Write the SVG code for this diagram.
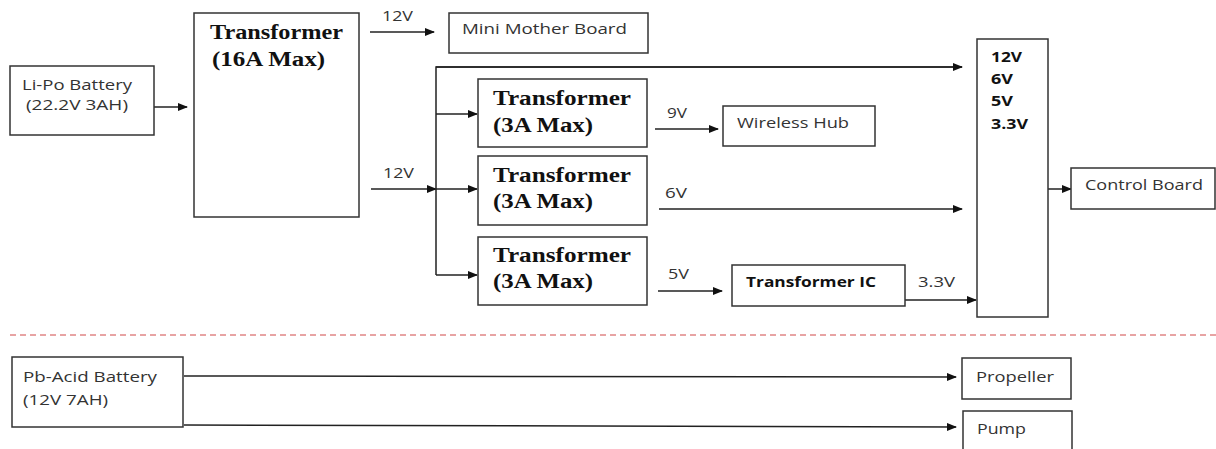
<svg xmlns="http://www.w3.org/2000/svg" width="1216" height="449" viewBox="0 0 1216 449">
<style>
.box{fill:#fff;stroke:#333;stroke-width:1.5}
.t{font-family:"Open Sans","Liberation Sans",sans-serif;font-size:15px;fill:#333}
.s{font-family:"Open Sans","Liberation Sans",sans-serif;font-size:14px;fill:#333}
.tb{font-family:"Open Sans","Liberation Sans",sans-serif;font-size:14px;font-weight:bold;fill:#111}
.ser{font-family:"Liberation Serif",serif;font-size:20px;font-weight:bold;fill:#111}
.ln{fill:none;stroke:#222;stroke-width:1.5}
</style>
<defs>
<marker id="ah" markerWidth="10" markerHeight="8" refX="9" refY="4" orient="auto" markerUnits="userSpaceOnUse">
<path d="M0,0 L10,4 L0,8 Z" fill="#111"/>
</marker>
</defs>
<rect width="1216" height="449" fill="#fff"/>
<line x1="10" y1="335" x2="1216" y2="335" stroke="#d04848" stroke-width="1" stroke-dasharray="6,4"/>

<g id="connectors">
<line class="ln" x1="154" y1="107" x2="187" y2="107" marker-end="url(#ah)"/>
<line class="ln" x1="370" y1="32" x2="434" y2="32" marker-end="url(#ah)"/>
<line class="ln" x1="371" y1="189" x2="436" y2="189" marker-end="url(#ah)"/>
<polyline class="ln" points="962,67 436,67 436,275"/>
<line class="ln" x1="436" y1="67" x2="962" y2="67" marker-end="url(#ah)"/>
<line class="ln" x1="436" y1="114" x2="477" y2="114" marker-end="url(#ah)"/>
<line class="ln" x1="436" y1="189" x2="477" y2="189" marker-end="url(#ah)"/>
<line class="ln" x1="436" y1="275" x2="477" y2="275" marker-end="url(#ah)"/>
<line class="ln" x1="655" y1="129" x2="718" y2="129" marker-end="url(#ah)"/>
<line class="ln" x1="659" y1="209" x2="962" y2="209" marker-end="url(#ah)"/>
<line class="ln" x1="658" y1="291" x2="722" y2="291" marker-end="url(#ah)"/>
<line class="ln" x1="905" y1="300" x2="976" y2="300" marker-end="url(#ah)"/>
<line class="ln" x1="1048" y1="189" x2="1071" y2="189" marker-end="url(#ah)"/>
<line class="ln" x1="184" y1="376" x2="956" y2="377" marker-end="url(#ah)"/>
<line class="ln" x1="184" y1="425" x2="956" y2="427" marker-end="url(#ah)"/>
<text class="s" x="382" y="21" textLength="31" lengthAdjust="spacingAndGlyphs">12V</text>
<text class="s" x="383" y="178" textLength="31" lengthAdjust="spacingAndGlyphs">12V</text>
<text class="s" x="667" y="118" textLength="20" lengthAdjust="spacingAndGlyphs">9V</text>
<text class="s" x="665" y="198" textLength="22" lengthAdjust="spacingAndGlyphs">6V</text>
<text class="s" x="668" y="279" textLength="21" lengthAdjust="spacingAndGlyphs">5V</text>
<text class="s" x="918" y="287" textLength="37" lengthAdjust="spacingAndGlyphs">3.3V</text>
</g>

<g id="lipo">
<rect class="box" x="10" y="66" width="144" height="69"/>
<text class="t" x="22" y="90" textLength="110" lengthAdjust="spacingAndGlyphs">Li-Po Battery</text>
<text class="t" x="26" y="110" textLength="102" lengthAdjust="spacingAndGlyphs">(22.2V 3AH)</text>
</g>
<g id="transformer16">
<rect class="box" x="194" y="13" width="165" height="204"/>
<text class="ser" x="210" y="39" textLength="133" lengthAdjust="spacingAndGlyphs">Transformer</text>
<text class="ser" x="212" y="66" textLength="113" lengthAdjust="spacingAndGlyphs">(16A Max)</text>
</g>
<g id="minimother">
<rect class="box" x="449" y="13" width="199" height="40"/>
<text class="t" x="462" y="34" textLength="165" lengthAdjust="spacingAndGlyphs">Mini Mother Board</text>
</g>
<g id="transformer3a1">
<rect class="box" x="478" y="79" width="169" height="68"/>
<text class="ser" x="493" y="105" textLength="138" lengthAdjust="spacingAndGlyphs">Transformer</text>
<text class="ser" x="493" y="132" textLength="100" lengthAdjust="spacingAndGlyphs">(3A Max)</text>
</g>
<g id="transformer3a2">
<rect class="box" x="478" y="156" width="169" height="69"/>
<text class="ser" x="493" y="182" textLength="138" lengthAdjust="spacingAndGlyphs">Transformer</text>
<text class="ser" x="493" y="208" textLength="100" lengthAdjust="spacingAndGlyphs">(3A Max)</text>
</g>
<g id="transformer3a3">
<rect class="box" x="478" y="237" width="169" height="68"/>
<text class="ser" x="493" y="262" textLength="138" lengthAdjust="spacingAndGlyphs">Transformer</text>
<text class="ser" x="493" y="288" textLength="100" lengthAdjust="spacingAndGlyphs">(3A Max)</text>
</g>
<g id="wirelesshub">
<rect class="box" x="723" y="106" width="152" height="40"/>
<text class="t" x="737" y="128" textLength="112" lengthAdjust="spacingAndGlyphs">Wireless Hub</text>
</g>
<g id="transformeric">
<rect class="box" x="732" y="265" width="173" height="41"/>
<text class="tb" x="746" y="287" textLength="130" lengthAdjust="spacingAndGlyphs">Transformer IC</text>
</g>
<g id="rails">
<rect class="box" x="977" y="39" width="71" height="278"/>
<text class="tb" x="991" y="62" textLength="31" lengthAdjust="spacingAndGlyphs">12V</text>
<text class="tb" x="991" y="84" textLength="22" lengthAdjust="spacingAndGlyphs">6V</text>
<text class="tb" x="991" y="106" textLength="22" lengthAdjust="spacingAndGlyphs">5V</text>
<text class="tb" x="991" y="129" textLength="37" lengthAdjust="spacingAndGlyphs">3.3V</text>
</g>
<g id="controlboard">
<rect class="box" x="1071" y="168" width="144" height="41"/>
<text class="t" x="1085" y="190" textLength="118" lengthAdjust="spacingAndGlyphs">Control Board</text>
</g>
<g id="pbacid">
<rect class="box" x="12" y="357" width="171" height="70"/>
<text class="t" x="23" y="382" textLength="134" lengthAdjust="spacingAndGlyphs">Pb-Acid Battery</text>
<text class="t" x="23" y="405" textLength="85" lengthAdjust="spacingAndGlyphs">(12V 7AH)</text>
</g>
<g id="propeller">
<rect class="box" x="962" y="358" width="109" height="41"/>
<text class="t" x="976" y="382" textLength="78" lengthAdjust="spacingAndGlyphs">Propeller</text>
</g>
<g id="pump">
<rect class="box" x="963" y="411" width="109" height="45"/>
<text class="t" x="977" y="434" textLength="49" lengthAdjust="spacingAndGlyphs">Pump</text>
</g>
</svg>
